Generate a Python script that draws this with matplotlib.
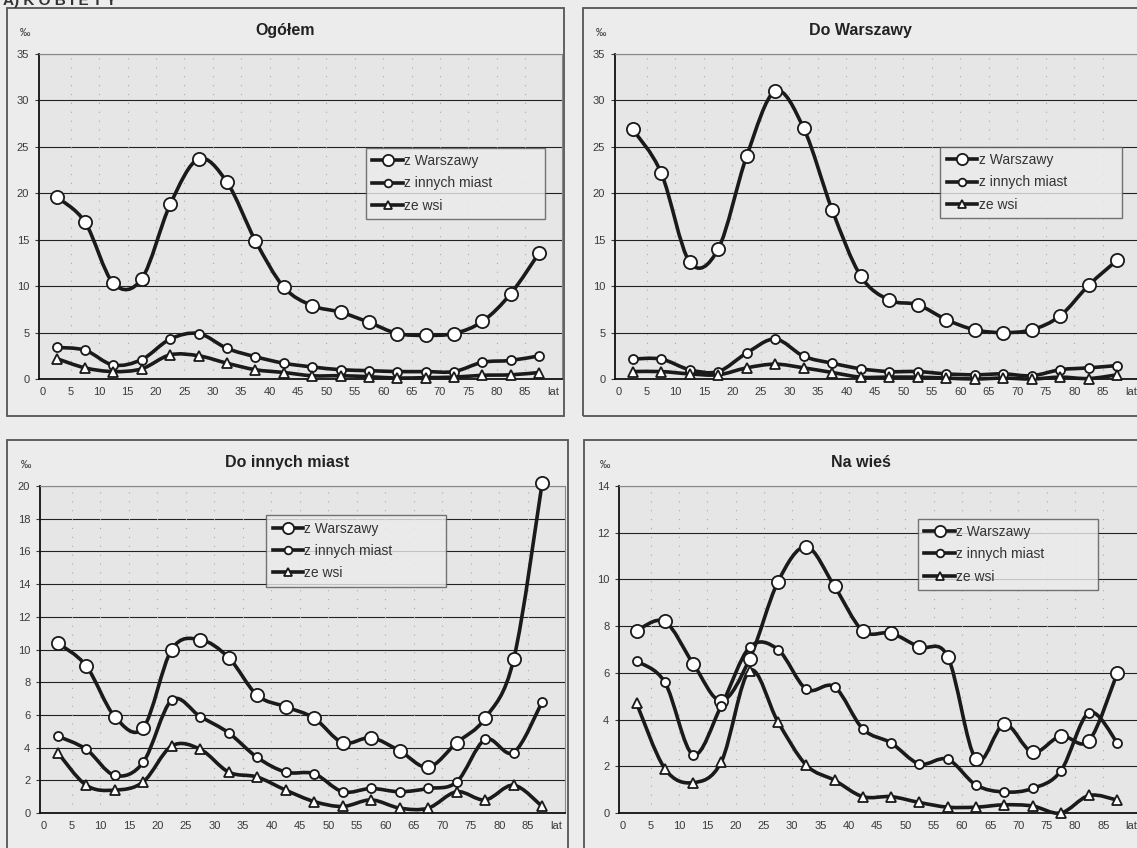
import matplotlib
matplotlib.use("Agg")
import matplotlib.pyplot as plt
from matplotlib.path import Path
from matplotlib.patches import PathPatch, Rectangle
from matplotlib.lines import Line2D

plt.rcParams["font.family"] = ["Liberation Sans", "DejaVu Sans"]

# age groups 0-4, 5-9, ..., 85+ (points sit in the middle of each group)
ages = [2.5, 7.5, 12.5, 17.5, 22.5, 27.5, 32.5, 37.5, 42.5, 47.5,
        52.5, 57.5, 62.5, 67.5, 72.5, 77.5, 82.5, 87.5]
x_ticks = [0, 5, 10, 15, 20, 25, 30, 35, 40, 45, 50, 55, 60, 65, 70, 75, 80, 85, 90]
x_labels = ["0", "5", "10", "15", "20", "25", "30", "35", "40", "45", "50",
            "55", "60", "65", "70", "75", "80", "85", "lat"]
series_names = ["z Warszawy", "z innych miast", "ze wsi"]

# Ogółem
og_warszawa = [19.6, 16.9, 10.3, 10.8, 18.8, 23.7, 21.2, 14.9, 9.9, 7.9,
               7.2, 6.1, 4.9, 4.7, 4.9, 6.2, 9.2, 13.6]
og_miasta = [3.4, 3.1, 1.5, 2.1, 4.3, 4.9, 3.3, 2.4, 1.7, 1.3,
             1.0, 0.9, 0.8, 0.8, 0.8, 1.8, 2.0, 2.5]
og_wies = [2.2, 1.2, 0.8, 1.1, 2.6, 2.5, 1.7, 1.0, 0.7, 0.35,
           0.35, 0.25, 0.1, 0.15, 0.2, 0.4, 0.45, 0.7]

# Do Warszawy
dw_warszawa = [26.9, 22.2, 12.6, 14.0, 24.0, 31.0, 27.0, 18.2, 11.1, 8.5,
               8.0, 6.4, 5.3, 5.0, 5.3, 6.8, 10.1, 12.8]
dw_miasta = [2.15, 2.15, 1.0, 0.8, 2.8, 4.3, 2.45, 1.7, 1.1, 0.8,
             0.8, 0.55, 0.45, 0.55, 0.35, 1.0, 1.2, 1.45]
dw_wies = [0.8, 0.8, 0.55, 0.45, 1.2, 1.6, 1.2, 0.7, 0.2, 0.2,
           0.2, 0.1, 0.0, 0.1, 0.0, 0.2, 0.05, 0.45]

# Do innych miast
dm_warszawa = [10.4, 9.0, 5.9, 5.2, 10.0, 10.6, 9.5, 7.2, 6.5, 5.8,
               4.3, 4.6, 3.8, 2.8, 4.3, 5.8, 9.4, 20.2]
dm_miasta = [4.7, 3.9, 2.3, 3.1, 6.9, 5.9, 4.9, 3.4, 2.5, 2.4,
             1.3, 1.5, 1.3, 1.5, 1.9, 4.5, 3.7, 6.8]
dm_wies = [3.7, 1.7, 1.4, 1.9, 4.1, 3.9, 2.5, 2.2, 1.4, 0.7,
           0.4, 0.8, 0.3, 0.3, 1.3, 0.8, 1.7, 0.4]

# Na wieś
nw_warszawa = [7.8, 8.2, 6.4, 4.8, 6.6, 9.9, 11.4, 9.7, 7.8, 7.7,
               7.1, 6.7, 2.3, 3.8, 2.6, 3.3, 3.1, 6.0]
nw_miasta = [6.5, 5.6, 2.5, 4.6, 7.1, 7.0, 5.3, 5.4, 3.6, 3.0,
             2.1, 2.3, 1.2, 0.9, 1.05, 1.8, 4.3, 3.0]
nw_wies = [4.7, 1.9, 1.3, 2.2, 6.1, 3.9, 2.05, 1.4, 0.7, 0.7,
           0.45, 0.25, 0.25, 0.35, 0.3, 0.0, 0.75, 0.55]

# legend boxes in data units: left, bottom, width, height
panels = [
    ("Ogółem", [og_warszawa, og_miasta, og_wies], 35, 5, (57.0, 16.7, 31.5, 8.2)),
    ("Do Warszawy", [dw_warszawa, dw_miasta, dw_wies], 35, 5, (56.5, 16.6, 31.9, 8.4)),
    ("Do innych miast", [dm_warszawa, dm_miasta, dm_wies], 20, 2, (39.1, 13.55, 31.5, 4.65)),
    ("Na wieś", [nw_warszawa, nw_miasta, nw_wies], 14, 2, (52.3, 9.35, 31.7, 3.25)),
]

W, H = 1137, 848
# plot-area rectangles in pixels: left, top, right, bottom
axes_px = [(39, 54, 562, 379), (615, 54, 1140, 379),
           (40, 486, 565, 813), (619, 486, 1140, 813)]
boxes_px = [(7, 8, 564, 416), (583, 8, 1150, 416),
            (7, 440, 568, 860), (584, 440, 1150, 860)]

markers = [dict(marker="o", ms=9.5), dict(marker="o", ms=6.5), dict(marker="^", ms=7.5)]


def smooth_path(xs, ys):
    # Excel-like smoothed line: cubic Bezier segments through every point
    verts = [(xs[0], ys[0])]
    codes = [Path.MOVETO]
    n = len(xs)
    for i in range(n - 1):
        x0, y0 = xs[max(i - 1, 0)], ys[max(i - 1, 0)]
        x1, y1 = xs[i], ys[i]
        x2, y2 = xs[i + 1], ys[i + 1]
        x3, y3 = xs[min(i + 2, n - 1)], ys[min(i + 2, n - 1)]
        c1 = (x1 + (x2 - x0) / 6, y1 + (y2 - y0) / 6)
        c2 = (x2 - (x3 - x1) / 6, y2 - (y3 - y1) / 6)
        verts += [c1, c2, (x2, y2)]
        codes += [Path.CURVE4] * 3
    return Path(verts, codes)


fig = plt.figure(figsize=(W / 100, H / 100), dpi=100, facecolor="#ececec")

fig.text(3 / W, 1 - 5 / H, "A) K O B I E T Y", fontsize=11, fontweight="bold",
         color="#333333", va="baseline", ha="left")

for (title, data, ymax, ystep, leg), (l, t, r, b), (bl, bt, br, bb) in zip(panels, axes_px, boxes_px):
    fig.add_artist(Rectangle((bl / W, 1 - bb / H), (br - bl) / W, (bb - bt) / H,
                             transform=fig.transFigure, fill=False,
                             edgecolor="#555555", lw=1.3))
    ax = fig.add_axes([l / W, 1 - b / H, (r - l) / W, (b - t) / H])
    ax.set_facecolor("#e6e6e6")
    ax.set_xlim(-0.6, 91.5)
    ax.set_ylim(0, ymax)
    ax.set_xticks(x_ticks)
    ax.set_xticklabels(x_labels)
    ax.set_yticks(range(0, ymax + 1, ystep))
    ax.tick_params(labelsize=8, colors="#3a3a3a", length=3, width=0.8, pad=4)
    ax.tick_params(axis="x", length=0, pad=6)
    for ytick in range(ystep, ymax + 1, ystep):
        ax.axhline(ytick, color="#222222", lw=0.8, zorder=1)
    for xt in x_ticks[1:-1]:
        ax.axvline(xt, color="#aaaaaa", lw=0.8, ls=(0, (1, 7)), zorder=1)
    for side in ["top", "right"]:
        ax.spines[side].set_color("#888888")
        ax.spines[side].set_linewidth(0.8)
    for side in ["left", "bottom"]:
        ax.spines[side].set_color("#111111")
        ax.spines[side].set_linewidth(1.3)

    handles = []
    for vals, mk, name in zip(data, markers, series_names):
        ax.add_patch(PathPatch(smooth_path(ages, vals), facecolor="none",
                               edgecolor="#1a1a1a", lw=2.6, zorder=3, clip_on=False))
        ax.plot(ages, vals, ls="none", color="#1a1a1a", mfc="white", mec="#1a1a1a",
                mew=1.3, zorder=4, clip_on=False, **mk)
        handles.append(Line2D([], [], color="#1a1a1a", lw=2.6, mfc="white",
                              mec="#1a1a1a", mew=1.3, label=name, **mk))

    lg = ax.legend(handles=handles, loc="upper left",
                   bbox_to_anchor=leg, bbox_transform=ax.transData,
                   mode="expand", fontsize=10, handlelength=2.2, handletextpad=0.1,
                   borderaxespad=0, labelspacing=0.6, frameon=True, fancybox=False,
                   borderpad=0.45, markerscale=0.85)
    lg.get_frame().set_edgecolor("#555555")
    lg.get_frame().set_facecolor("#ececec")
    lg.get_frame().set_linewidth(1.0)
    lg.set_zorder(5)
    for txt in lg.get_texts():
        txt.set_color("#333333")

    cx = (bl + min(br, W)) / 2
    fig.text(cx / W, 1 - (t - 19) / H, title, fontsize=11.5, fontweight="bold",
             color="#222222", ha="center", va="baseline")
    fig.text((l - 19) / W, 1 - (t - 18) / H, "‰", fontsize=7.5, color="#333333",
             ha="left", va="baseline")

fig.savefig("out.png", dpi=100, facecolor=fig.get_facecolor())
